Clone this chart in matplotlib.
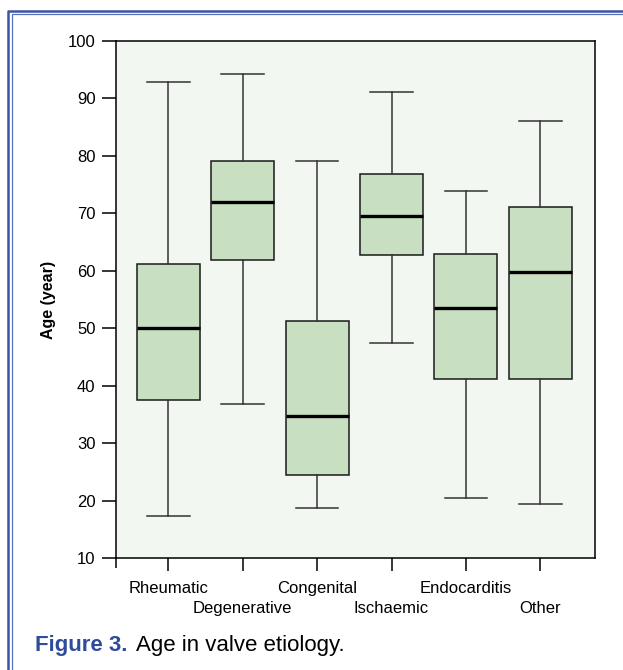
import matplotlib.pyplot as plt
from matplotlib.lines import Line2D

plt.rcParams['font.family'] = ['Liberation Sans', 'DejaVu Sans']

# Values
categories = ['Rheumatic', 'Degenerative', 'Congenital', 'Ischaemic', 'Endocarditis', 'Other']
whisker_low = [17.4, 36.8, 18.8, 47.4, 20.5, 19.4]
q1 = [37.6, 61.8, 24.4, 62.8, 41.2, 41.2]
median = [50.0, 71.9, 34.8, 69.6, 53.5, 59.7]
q3 = [61.1, 79.0, 51.3, 76.9, 62.9, 71.0]
whisker_high = [92.9, 94.2, 79.1, 91.1, 73.8, 86.1]
yticks = [10, 20, 30, 40, 50, 60, 70, 80, 90, 100]

box_face = '#c9dfc1'
plot_bg = '#f3f7f1'
blue = '#2f4b9c'

fig = plt.figure(figsize=(6.23, 6.7), dpi=100)
ax = fig.add_axes([0.1857, 0.1667, 0.7689, 0.7726])
ax.set_facecolor(plot_bg)

stats = []
for i, name in enumerate(categories):
    stats.append({'label': name, 'whislo': whisker_low[i], 'q1': q1[i], 'med': median[i],
                  'q3': q3[i], 'whishi': whisker_high[i], 'fliers': []})

positions = list(range(1, len(categories) + 1))
ax.bxp(stats, positions=positions, widths=0.847, capwidths=0.574, patch_artist=True,
       showfliers=False,
       boxprops=dict(facecolor=box_face, edgecolor='#1a1a1a', linewidth=1.1),
       medianprops=dict(color='black', linewidth=2.4),
       whiskerprops=dict(color='#333333', linewidth=1.1),
       capprops=dict(color='#333333', linewidth=1.1))

ax.set_xlim(0.293, 6.73)
ax.set_ylim(10, 100)
ax.set_yticks(yticks)
ax.set_yticklabels([str(t) for t in yticks], fontsize=12)

ax.set_xticks(positions)
ax.set_xticklabels(categories, fontsize=12)
ax.set_xticks([0.293], minor=True)

for s in ax.spines.values():
    s.set_linewidth(1.1)
    s.set_color('black')
ax.tick_params(axis='y', length=10, width=1.1, pad=4.5)
ax.tick_params(axis='x', which='major', length=9.5, width=1.1)
ax.tick_params(axis='x', which='minor', length=7.5, width=1.1)

# staggered category labels: every second label one row lower
for i, tick in enumerate(ax.xaxis.get_major_ticks()):
    tick.set_pad(6.7 if i % 2 == 0 else 21.3)

ax.set_ylabel('Age (year)', fontsize=11.5, fontweight='bold', labelpad=8.6)

# caption
fig.text(35 / 623, 1 - 645 / 670, 'Figure 3.', fontsize=16, fontweight='bold',
         color=blue, va='center', ha='left')
fig.text(135.7 / 623, 1 - 645 / 670, 'Age in valve etiology.', fontsize=16,
         color='black', va='center', ha='left')

# double blue frame (cut off on right and bottom)
W, H = 623, 670
fig.add_artist(Line2D([7.5 / W, 7.5 / W, 1.0], [0.0, 1 - 10.5 / H, 1 - 10.5 / H],
                      color='#3a55a6', linewidth=1.8, transform=fig.transFigure))
fig.add_artist(Line2D([11.5 / W, 11.5 / W, 1.0], [0.0, 1 - 14 / H, 1 - 14 / H],
                      color='#5b72bb', linewidth=0.9, transform=fig.transFigure))

fig.savefig('out.png', dpi=100)
